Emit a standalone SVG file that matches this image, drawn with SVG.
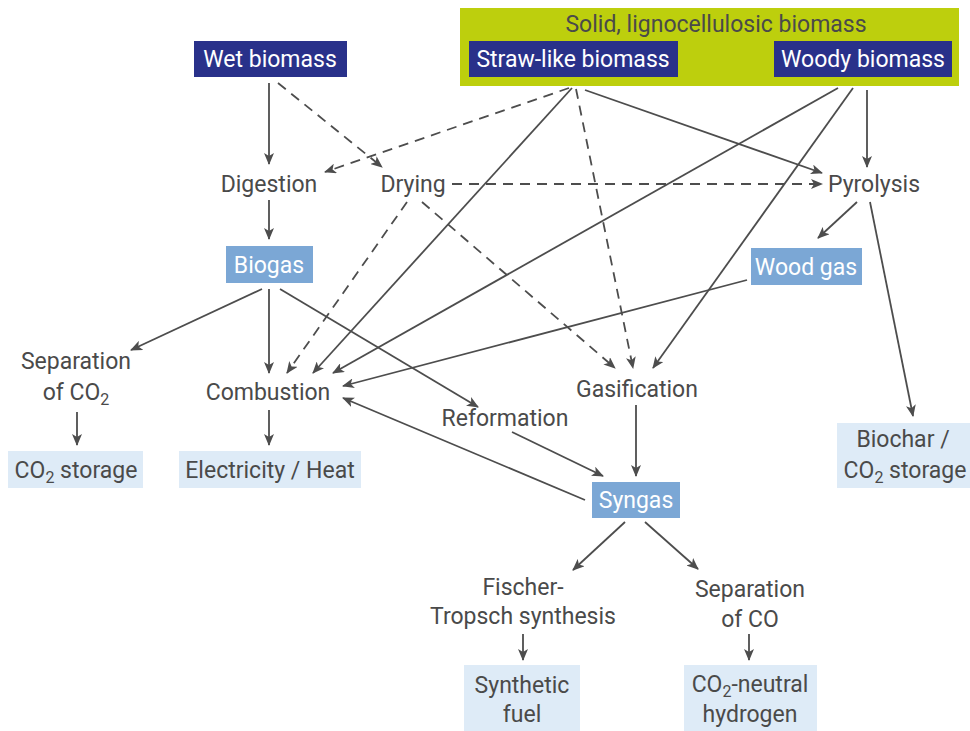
<svg xmlns="http://www.w3.org/2000/svg" width="970" height="731" viewBox="0 0 970 731">
<defs>
<style>
text{font-family:Roboto,"Liberation Sans",Arial,sans-serif;font-size:23px;fill:#4a4a4a;text-anchor:middle}
.w{fill:#ffffff}
.dark{fill:#29318a}
.mid{fill:#7ba7d5}
.light{fill:#deebf7}
.c path{fill:none;stroke:#4d4d4d;stroke-width:1.8;marker-end:url(#ah)}
.c path.d{stroke-dasharray:10 7}
</style>
<marker id="ah" viewBox="0 0 12 10" refX="11" refY="5" markerWidth="12" markerHeight="10" markerUnits="userSpaceOnUse" orient="auto">
<path d="M0,0 L12,5 L0,10 L3,5 z" fill="#4d4d4d" stroke="none"/>
</marker>
</defs>
<rect width="970" height="731" fill="#ffffff"/>

<g id="solid-biomass">
<rect x="460" y="8" width="499" height="78" fill="#bdcf0d"/>
<text x="716" y="32">Solid, lignocellulosic biomass</text>
</g>
<g id="wet-biomass">
<rect class="dark" x="194" y="41" width="153" height="36"/>
<text class="w" x="270" y="67">Wet biomass</text>
</g>
<g id="straw-biomass">
<rect class="dark" x="469" y="41" width="209" height="36"/>
<text class="w" x="573" y="67">Straw-like biomass</text>
</g>
<g id="woody-biomass">
<rect class="dark" x="774" y="41" width="178" height="36"/>
<text class="w" x="863" y="67">Woody biomass</text>
</g>
<g id="digestion"><text x="269" y="192">Digestion</text></g>
<g id="drying"><text x="413" y="192">Drying</text></g>
<g id="pyrolysis"><text x="874" y="192">Pyrolysis</text></g>
<g id="biogas">
<rect class="mid" x="226" y="246" width="87" height="37"/>
<text class="w" x="269" y="273">Biogas</text>
</g>
<g id="woodgas">
<rect class="mid" x="751" y="248" width="111" height="37"/>
<text class="w" x="806" y="275">Wood gas</text>
</g>
<g id="sep-co2">
<text x="76" y="369">Separation</text>
<text x="76" y="400">of CO<tspan font-size="16" dy="5">2</tspan></text>
</g>
<g id="combustion"><text x="268" y="400">Combustion</text></g>
<g id="gasification"><text x="637" y="397">Gasification</text></g>
<g id="reformation"><text x="505" y="426">Reformation</text></g>
<g id="co2-storage">
<rect class="light" x="8" y="451" width="135" height="37"/>
<text x="76" y="478">CO<tspan font-size="16" dy="5">2</tspan><tspan dy="-5"> storage</tspan></text>
</g>
<g id="electricity">
<rect class="light" x="179" y="451" width="182" height="37"/>
<text x="270" y="478">Electricity / Heat</text>
</g>
<g id="biochar">
<rect class="light" x="837" y="423" width="133" height="65"/>
<text x="903" y="447">Biochar /</text>
<text x="905" y="478">CO<tspan font-size="16" dy="5">2</tspan><tspan dy="-5"> storage</tspan></text>
</g>
<g id="syngas">
<rect class="mid" x="592" y="482" width="88" height="36"/>
<text class="w" x="636" y="508">Syngas</text>
</g>
<g id="fischer">
<text x="523" y="595">Fischer-</text>
<text x="523" y="624">Tropsch synthesis</text>
</g>
<g id="sep-co">
<text x="750" y="597">Separation</text>
<text x="750" y="627">of CO</text>
</g>
<g id="synthetic-fuel">
<rect class="light" x="464" y="665" width="116" height="66"/>
<text x="522" y="693">Synthetic</text>
<text x="522" y="722">fuel</text>
</g>
<g id="hydrogen">
<rect class="light" x="684" y="665" width="133" height="66"/>
<text x="750" y="692">CO<tspan font-size="16" dy="5">2</tspan><tspan dy="-5">-neutral</tspan></text>
<text x="750" y="722">hydrogen</text>
</g>

<g id="connectors" class="c">
<path d="M269,83 L269,164"/>
<path class="d" d="M278,83 L382,167"/>
<path class="d" d="M569,88 L325,172"/>
<path d="M572,88 L313,373"/>
<path class="d" d="M576,89 L633,368"/>
<path d="M585,90 L822,173"/>
<path d="M838,88 L333,373"/>
<path d="M853,88 L653,368"/>
<path d="M867,90 L867,167"/>
<path class="d" d="M452,184 L822,184"/>
<path class="d" d="M407,202 L287,373"/>
<path class="d" d="M422,202 L615,368"/>
<path d="M269,200 L269,239"/>
<path d="M262,289 L131,350"/>
<path d="M269,289 L269,373"/>
<path d="M280,289 L478,407"/>
<path d="M857,202 L818,238"/>
<path d="M870,202 L913,416"/>
<path d="M747,280 L343,386"/>
<path d="M585,500 L343,398"/>
<path d="M636,405 L636,476"/>
<path d="M512,432 L603,476"/>
<path d="M269,410 L269,445"/>
<path d="M77,412 L77,445"/>
<path d="M625,522 L573,570"/>
<path d="M645,522 L698,569"/>
<path d="M523,634 L523,660"/>
<path d="M749,634 L749,660"/>
</g>
</svg>
